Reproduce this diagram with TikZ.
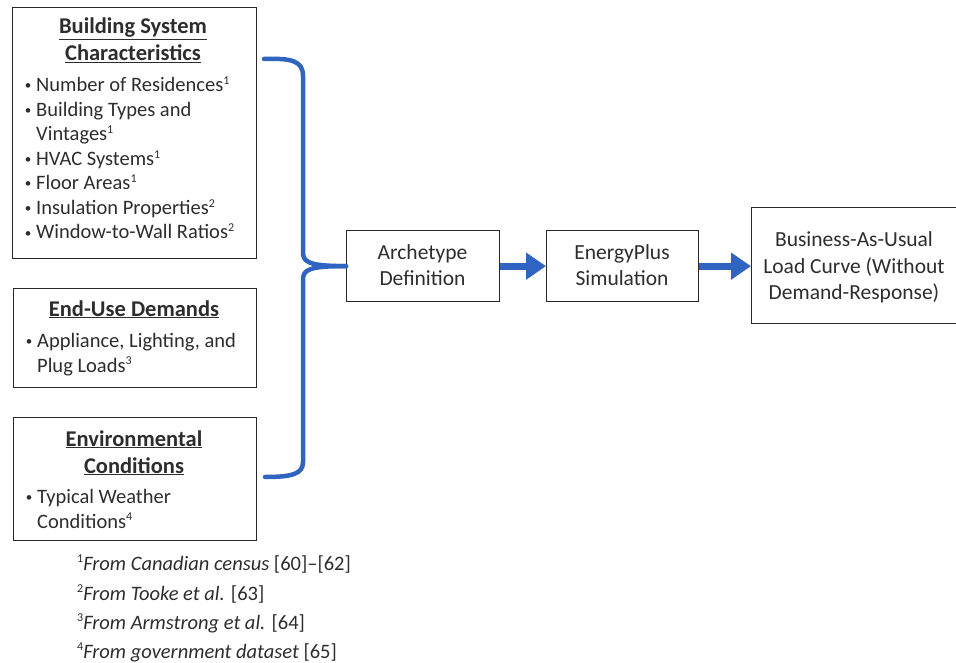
\documentclass[tikz,border=0pt]{standalone}
\usepackage{fontspec}
\setmainfont{Carlito}
\usetikzlibrary{arrows.meta}
\definecolor{bl}{RGB}{47,100,192}
\definecolor{tx}{RGB}{45,45,45}
\definecolor{bd}{RGB}{40,40,40}
\tikzset{
  box/.style={draw=bd, line width=1.3pt, inner sep=0pt, anchor=north west},
  itm/.style={inner sep=0pt, anchor=base west, text=tx, font=\fontsize{20.5}{22}\selectfont},
  bul/.style={inner sep=0pt, anchor=base, text=tx, font=\fontsize{13}{14}\selectfont},
  ttl/.style={inner sep=0pt, anchor=base, text=tx, font=\fontsize{22.5}{24}\selectfont\bfseries},
  ctr/.style={inner sep=0pt, anchor=base, text=tx, font=\fontsize{21.5}{22}\selectfont},
  arr/.style={draw=bl, line width=7pt, -{Triangle[length=20pt,width=26pt]}},
  brace/.style={draw=bl, line width=4.5pt, line cap=round, line join=round}
}
\newcommand{\ul}[1]{\underline{#1}}
\newcommand{\sps}[1]{\raisebox{0.35em}{\fontsize{12}{12}\selectfont #1}}
\begin{document}
\begin{tikzpicture}[x=1pt,y=-1pt]
\useasboundingbox (0,0) rectangle (956,663);
% left boxes
\node[box, minimum width=244pt, minimum height=251pt] (bsc) at (12,7) {};
\node[box, minimum width=243pt, minimum height=99pt] (eud) at (13,288) {};
\node[box, minimum width=243pt, minimum height=123pt] (env) at (13,417) {};
% box 1 text
\node[ttl] (t1a) at (133,34) {\ul{Building System}};
\node[ttl] (t1b) at (133,61) {\ul{Characteristics}};
\node[bul] (b11) at (28,90) {•};
\node[itm] (i11) at (36,92) {Number of Residences\sps{1}};
\node[bul] (b12) at (28,114.5) {•};
\node[itm] (i12) at (36,116.5) {Building Types and};
\node[itm] (i12b) at (36,141) {Vintages\sps{1}};
\node[bul] (b13) at (28,163.5) {•};
\node[itm] (i13) at (36,165.5) {HVAC Systems\sps{1}};
\node[bul] (b14) at (28,188) {•};
\node[itm] (i14) at (36,190) {Floor Areas\sps{1}};
\node[bul] (b15) at (28,212.5) {•};
\node[itm] (i15) at (36,214.5) {Insulation Properties\sps{2}};
\node[bul] (b16) at (28,237) {•};
\node[itm] (i16) at (36,239) {Window-to-Wall Ratios\sps{2}};
% box 2 text
\node[ttl] (t2a) at (134,316) {\ul{End-Use Demands}};
\node[bul] (b21) at (29,345) {•};
\node[itm] (i21) at (37,347) {Appliance, Lighting, and};
\node[itm] (i21b) at (37,372) {Plug Loads\sps{3}};
% box 3 text
\node[ttl] (t3a) at (134,446) {\ul{Environmental}};
\node[ttl] (t3b) at (134,473) {\ul{Conditions}};
\node[bul] (b31) at (29,501) {•};
\node[itm] (i31) at (37,503) {Typical Weather};
\node[itm] (i31b) at (37,528) {Conditions\sps{4}};
% footnotes
\node[itm] (f1) at (77,570) {\sps{1}\textit{From Canadian census} [60]–[62]};
\node[itm] (f2) at (77,600) {\sps{2}\textit{From Tooke et al.} [63]};
\node[itm] (f3) at (77,629) {\sps{3}\textit{From Armstrong et al.} [64]};
\node[itm] (f4) at (77,658) {\sps{4}\textit{From government dataset} [65]};
% right boxes
\node[box, minimum width=153pt, minimum height=71pt] (arch) at (346,230) {};
\node[box, minimum width=152pt, minimum height=71pt] (ep) at (546,230) {};
\node[box, minimum width=205pt, minimum height=116pt] (bau) at (751,207) {};
\node[ctr] (a1) at (422.5,260) {Archetype};
\node[ctr] (a2) at (422.5,285) {Definition};
\node[ctr] (e1) at (622,260) {EnergyPlus};
\node[ctr] (e2) at (622,285) {Simulation};
\node[ctr] (u1) at (854,247) {Business-As-Usual};
\node[ctr] (u2) at (854,273) {Load Curve (Without};
\node[ctr] (u3) at (854,299) {Demand-Response)};
% arrows
\draw[arr] (arch.east) -- (ep.west);
\draw[arr] (ep.east) -- (bau.west |- ep.east);
% brace
\coordinate (btop) at (264,59);
\coordinate (bbot) at (265,477);
\draw[brace] (btop) .. controls (292,58) and (303,61) .. (303,76) -- (303,252)
  .. controls (303,262) and (308,266) .. (arch.west);
\draw[brace] (arch.west) .. controls (308,266) and (303,270) .. (303,280) -- (303,462)
  .. controls (303,474) and (292,477) .. (bbot);
\end{tikzpicture}
\end{document}
